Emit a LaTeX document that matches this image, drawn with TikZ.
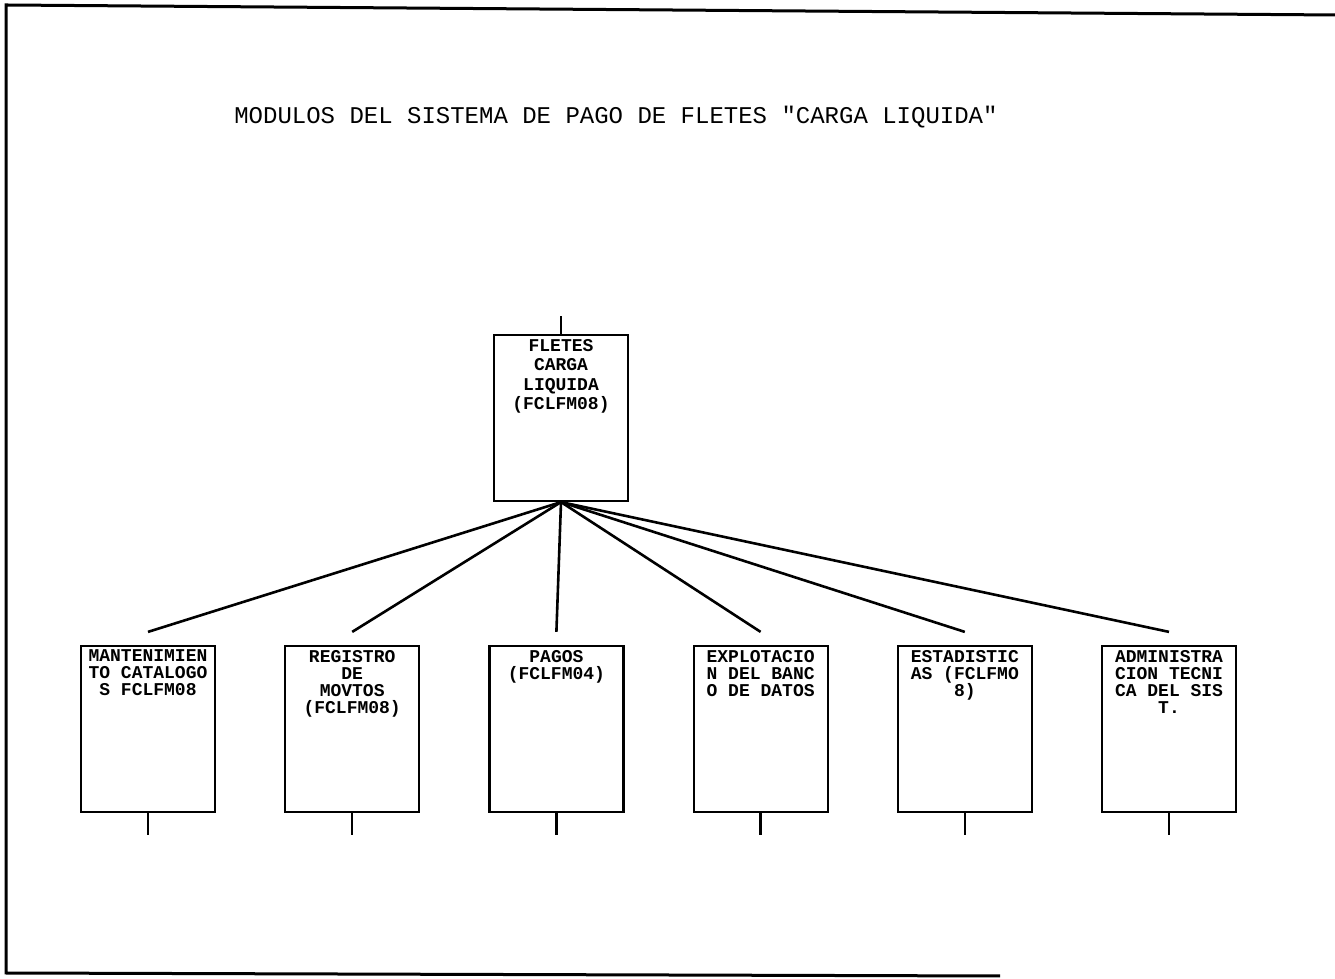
\documentclass[tikz,border=0pt]{standalone}
\usepackage{fontspec}
\setmonofont{Liberation Mono}
\usepackage{tikz}
\usetikzlibrary{positioning,calc}
\newcommand{\modtext}[1]{\parbox[c][158pt][t]{126pt}{\centering #1}}
\tikzset{modbox/.style={draw,line width=2.2pt,inner sep=4pt,font=\ttfamily\bfseries\fontsize{18}{17}\selectfont},link/.style={line width=2.6pt},stub/.style={line width=2.4pt},frame/.style={line width=3pt},title/.style={font=\ttfamily\fontsize{24}{26}\selectfont}}

\begin{document}
\begin{tikzpicture}[x=1pt,y=1pt,node distance=68pt]
\useasboundingbox (0,0) rectangle (1335,979);
% page border of the scan
\draw[frame] (1335,964) -- (6,974) -- (6,6) -- (1000,3);
\node[title] (head) at (616,862) {MODULOS DEL SISTEMA DE PAGO DE FLETES "CARGA LIQUIDA"};
\node[modbox,font=\ttfamily\bfseries\fontsize{18}{19.5}\selectfont] (top) at (561,561) {\modtext{FLETES\\CARGA\\LIQUIDA\\(FCLFM08)}};
\node[modbox] (mant) at (148,250) {\modtext{MANTENIMIEN\\TO CATALOGO\\S FCLFM08}};
\node[modbox,right=of mant] (reg) {\modtext{REGISTRO\\DE\\MOVTOS\\(FCLFM08)}};
\node[modbox,right=of reg] (pag) {\modtext{PAGOS\\(FCLFM04)}};
\node[modbox,right=of pag] (expl) {\modtext{EXPLOTACIO\\N DEL BANC\\O DE DATOS}};
\node[modbox,right=of expl] (est) {\modtext{ESTADISTIC\\AS (FCLFMO\\8)}};
\node[modbox,right=of est] (adm) {\modtext{ADMINISTRA\\CION TECNI\\CA DEL SIS\\T.}};
\draw[stub] (top.north) -- ++(0,18);
\foreach \m in {mant,reg,pag,expl,est,adm}{
  \draw[link] (top.south) -- ($(\m.north)+(0,13)$);
  \draw[stub] (\m.south) -- ++(0,-22);
}
\end{tikzpicture}
\end{document}
